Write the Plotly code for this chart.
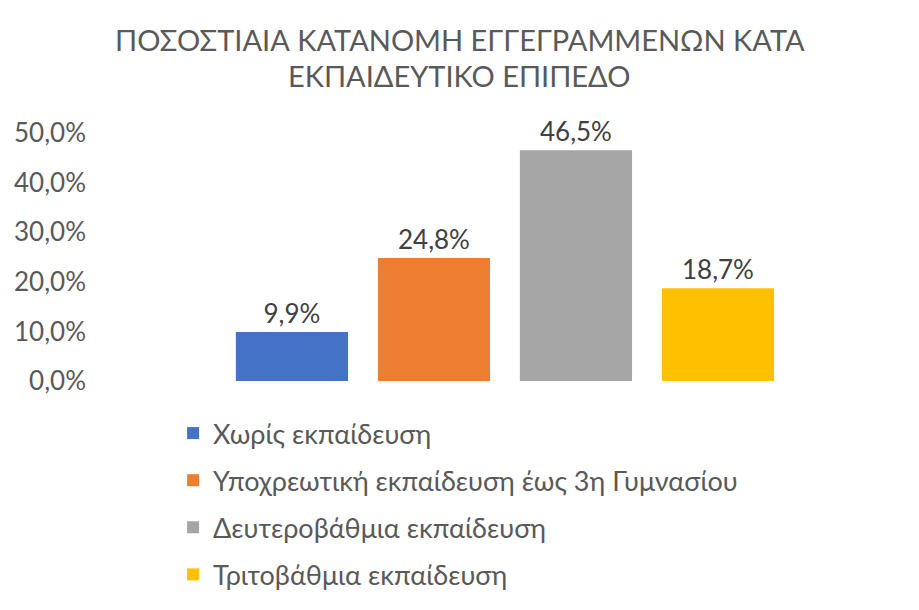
import plotly.graph_objects as go

categories = ["Χωρίς εκπαίδευση",
              "Υποχρεωτική εκπαίδευση έως 3η Γυμνασίου",
              "Δευτεροβάθμια εκπαίδευση",
              "Τριτοβάθμια εκπαίδευση"]
values = [9.9, 24.8, 46.5, 18.7]
colors = ["#4472C4", "#ED7D31", "#A5A5A5", "#FFC000"]
tick_vals = [0, 10, 20, 30, 40, 50]
tick_text = [f"{v:.1f}%".replace(".", ",") for v in tick_vals]
title_lines = ["ΠΟΣΟΣΤΙΑΙΑ ΚΑΤΑΝΟΜΗ ΕΓΓΕΓΡΑΜΜΕΝΩΝ ΚΑΤΑ", "ΕΚΠΑΙΔΕΥΤΙΚΟ ΕΠΙΠΕΔΟ"]

FONT = "Lato"

fig = go.Figure()
for i, (cat, val, col) in enumerate(zip(categories, values, colors)):
    fig.add_trace(go.Bar(
        x=[i], y=[val], name=cat, width=0.79,
        marker=dict(color=col, line=dict(width=0)),
        texttemplate="%{y:.1f}%", textposition="outside", constraintext="none",
        textfont=dict(size=26, color="#404040", family=FONT),
        cliponaxis=False, legendgroup=f"g{i}",
    ))

title_ann = []
for line, yp in zip(title_lines, [1.379, 1.230]):
    title_ann.append(dict(
        text=line, xref="paper", yref="paper", x=0.4528, y=yp,
        xanchor="center", yanchor="middle", showarrow=False,
        font=dict(size=29, color="#595959", family=FONT)))

fig.update_layout(
    width=919, height=610,
    separators=",.",
    barmode="overlay",
    paper_bgcolor="white", plot_bgcolor="white",
    font=dict(family=FONT, color="#595959"),
    margin=dict(l=95, r=19, t=133, b=229, autoexpand=False),
    xaxis=dict(range=[-1.387, 4.282], showticklabels=False, showgrid=False,
               zeroline=False, showline=False, ticks=""),
    yaxis=dict(range=[0, 50], tickvals=tick_vals, ticktext=tick_text,
               showgrid=False, zeroline=False, showline=False, ticks="",
               ticklabelstandoff=8, automargin=False,
               tickfont=dict(size=26, color="#595959", family=FONT)),
    showlegend=True,
    legend=dict(orientation="v", xref="paper", yref="paper",
                x=0.097, xanchor="left", y=-0.113, yanchor="top",
                tracegroupgap=9, traceorder="grouped",
                font=dict(size=27, color="#595959", family=FONT),
                bgcolor="rgba(0,0,0,0)"),
    annotations=title_ann,
)

fig.write_html("out.html")
